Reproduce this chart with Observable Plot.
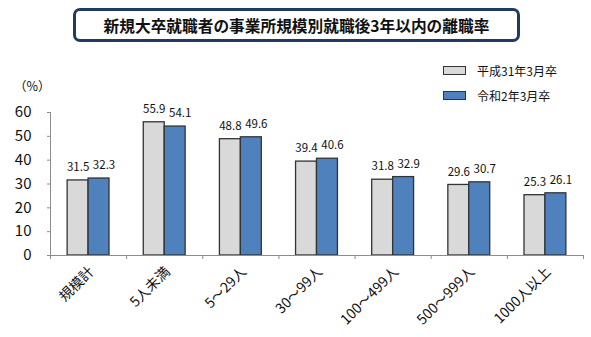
<!DOCTYPE html>
<html>
<head>
<meta charset="utf-8">
<script src="https://cdn.jsdelivr.net/npm/d3@7"></script>
<script src="https://cdn.jsdelivr.net/npm/@observablehq/plot@0.6"></script>
<style>
  html, body { margin: 0; padding: 0; background: #fff; }
  #wrap { position: relative; width: 591px; height: 337px; font-family: "Noto Sans CJK JP", sans-serif; }
  #title {
    position: absolute; left: 73px; top: 8px; width: 441px; height: 28px;
    border: 3px solid #1f3b63; border-radius: 7px;
    font-weight: bold; font-size: 15.7px; color: #111;
    display: flex; align-items: center; justify-content: center; letter-spacing: 0px;
  }
  #chart { position: absolute; left: 0; top: 0; }
  .leg { position: absolute; left: 443px; font-size: 12px; color: #111; display: flex; align-items: center; }
  .sw { width: 21px; height: 7px; border: 1.3px solid #333; margin-right: 11px; }
  #unit { position: absolute; left: 14px; top: 76px; font-size: 12.5px; color: #111; }
</style>
</head>
<body>
<div id="wrap">
  <div id="chart"></div>
  <div id="title">新規大卒就職者の事業所規模別就職後3年以内の離職率</div>
  <div id="unit">（%）</div>
  <div id="legend"></div>
</div>
<script>
const categories = ["規模計", "5人未満", "5～29人", "30～99人", "100～499人", "500～999人", "1000人以上"];
const seriesNames = ["平成31年3月卒", "令和2年3月卒"];
const h31 = [31.5, 55.9, 48.8, 39.4, 31.8, 29.6, 25.3];
const r2 = [32.3, 54.1, 49.6, 40.6, 32.9, 30.7, 26.1];
const yTicks = [0, 10, 20, 30, 40, 50, 60];
const colors = ["#d9d9d9", "#4f81bd"];

const rows = [];
categories.forEach((c, i) => {
  rows.push({cat: c, i, s: 0, series: seriesNames[0], value: h31[i]});
  rows.push({cat: c, i, s: 1, series: seriesNames[1], value: r2[i]});
});

// group layout inside each category band
const padOuter = 0.225, barW = (1 - 2 * padOuter) / 2;
const x1 = d => d.i + padOuter + d.s * barW;
const x2 = d => d.i + padOuter + (d.s + 1) * barW;
const xc = d => d.i + padOuter + (d.s + 0.5) * barW;

const plot = Plot.plot({
  width: 591,
  height: 337,
  marginTop: 112,
  marginBottom: 82,
  marginLeft: 50,
  marginRight: 8,
  style: {fontFamily: "'Noto Sans CJK JP', sans-serif", background: "transparent", color: "#111"},
  x: {domain: [0, categories.length]},
  y: {domain: [0, 60]},
  marks: [
    Plot.rectY(rows, {x1, x2, y: "value", fill: d => colors[d.s], stroke: "#333", strokeWidth: 1.3}),
    Plot.text(rows.filter(d => d.s === 0), {x: xc, y: "value", text: d => d.value.toFixed(1), dy: -13, fontSize: 11.5, fill: "#111"}),
    Plot.text(rows.filter(d => d.s === 1), {x: xc, y: "value", text: d => d.value.toFixed(1), dy: -13, dx: 5, fontSize: 11.5, fill: "#111"}),
    Plot.ruleY([0], {stroke: "#8c8c8c", strokeWidth: 1}),
    Plot.ruleX([0], {stroke: "#8c8c8c", strokeWidth: 1}),
    Plot.axisY({ticks: yTicks, tickSize: 3, tickPadding: 16, fontSize: 15, stroke: "#8c8c8c", label: null}),
    Plot.axisX({ticks: d3.range(categories.length + 1), tickSize: 4, tickFormat: () => "", stroke: "#8c8c8c", label: null}),
    Plot.axisX({ticks: categories.map((c, i) => i + 0.5), tickSize: 0, tickPadding: 0, tickRotate: -45, dy: 14, dx: 3,
      tickFormat: v => categories[Math.round(v - 0.5)], fontSize: 14, label: null})
  ]
});
document.getElementById("chart").appendChild(plot);

const legend = document.getElementById("legend");
seriesNames.forEach((n, k) => {
  const d = document.createElement("div");
  d.className = "leg";
  d.style.top = (62 + k * 25) + "px";
  d.innerHTML = `<span class="sw" style="background:${colors[k]}"></span><span>${n}</span>`;
  legend.appendChild(d);
});
</script>
</body>
</html>
